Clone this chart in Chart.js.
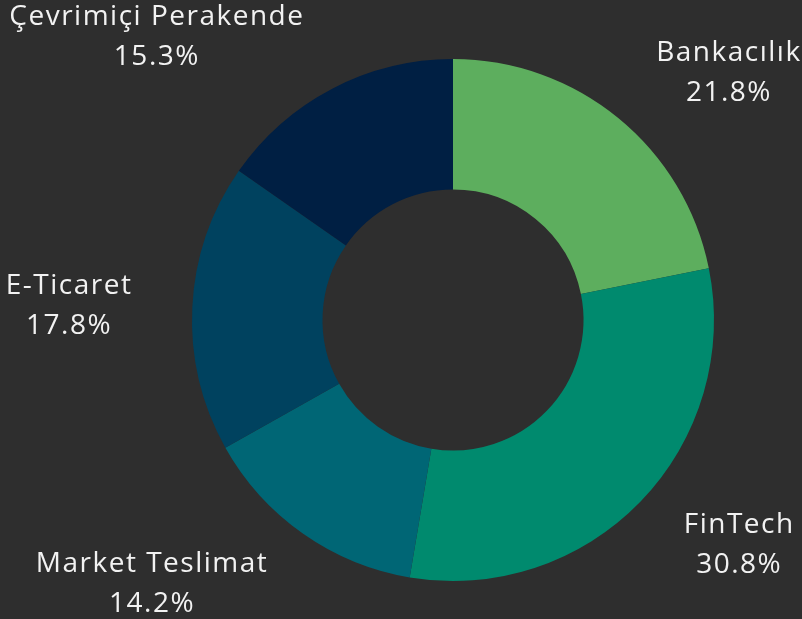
<!DOCTYPE html>
<html>
<head>
<meta charset="utf-8">
<script src="https://cdn.jsdelivr.net/npm/chart.js@4"></script>
<style>
  html, body { margin: 0; padding: 0; background: #2e2e2e; }
  #wrap { width: 802px; height: 619px; }
</style>
</head>
<body>
<div id="wrap"><canvas id="donutChart" width="802" height="619"></canvas></div>
<script>
const labels = ['Bankacılık', 'FinTech', 'Market Teslimat', 'E-Ticaret', 'Çevrimiçi Perakende'];
const values = [21.8, 30.8, 14.2, 17.8, 15.3];
const colors = ['#5dae5e', '#008a6e', '#006675', '#00425f', '#001f43'];

const FONT = '28px "Open Sans", "DejaVu Sans", sans-serif';

// etiketler dilimin dışında, iki satır: isim ve yüzde
const outsideLabels = {
    id: 'outsideLabels',
    afterDraw(chart) {
        const ctx = chart.ctx;
        const meta = chart.getDatasetMeta(0);
        ctx.save();
        ctx.font = FONT;
        ctx.letterSpacing = '1.5px';
        ctx.fillStyle = '#f2f2f2';
        ctx.textBaseline = 'middle';
        ctx.textAlign = 'center';
        meta.data.forEach((arc, i) => {
            const mid = (arc.startAngle + arc.endAngle) / 2;
            const dx = Math.cos(mid), dy = Math.sin(mid);
            const r = arc.outerRadius + 60;
            const px = arc.x + dx * r;
            const py = arc.y + dy * r + 2;
            const lines = [labels[i], values[i].toFixed(1) + '%'];
            const w = Math.max(...lines.map(t => ctx.measureText(t).width));
            const cx = dx >= 0 ? px + w / 2 : px - w / 2;
            ctx.fillText(lines[0], cx, py - 20);
            ctx.fillText(lines[1], cx, py + 20);
        });
        ctx.restore();
    }
};

new Chart(document.getElementById('donutChart').getContext('2d'), {
    type: 'doughnut',
    data: {
        labels: labels,
        datasets: [{
            data: values,
            backgroundColor: colors,
            borderWidth: 0
        }]
    },
    options: {
        responsive: false,
        animation: false,
        cutout: '50%',
        layout: { padding: { top: 59, bottom: 38, left: 192, right: 88 } },
        plugins: {
            legend: { display: false },
            tooltip: { enabled: false }
        }
    },
    plugins: [outsideLabels]
});
</script>
</body>
</html>
